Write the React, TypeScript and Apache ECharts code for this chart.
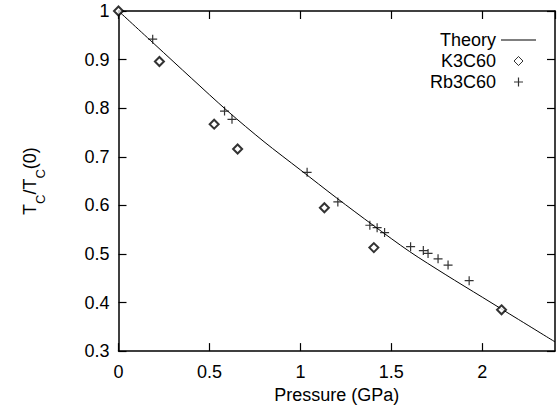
import React, { useEffect, useRef } from "react";
import * as echarts from "echarts";

const theoryP = [0, 0.2, 0.4, 0.6, 0.8, 1.0, 1.2, 1.4, 1.6, 1.8, 2.0, 2.2, 2.4];
const theoryT = [1.0, 0.931, 0.862, 0.794, 0.731, 0.673, 0.615, 0.559, 0.505, 0.457, 0.411, 0.365, 0.319];

const k3P = [0, 0.225, 0.526, 0.655, 1.132, 1.404, 2.106];
const k3T = [1.0, 0.896, 0.767, 0.716, 0.595, 0.513, 0.385];

const rbP = [0.188, 0.583, 0.624, 1.037, 1.206, 1.382, 1.422, 1.463, 1.606, 1.676, 1.702, 1.757, 1.812, 1.928];
const rbT = [0.942, 0.794, 0.777, 0.668, 0.607, 0.559, 0.554, 0.544, 0.515, 0.507, 0.501, 0.49, 0.477, 0.445];

const xTicks = [0, 0.5, 1, 1.5, 2];
const yTicks = [0.3, 0.4, 0.5, 0.6, 0.7, 0.8, 0.9, 1];

const FONT = "Liberation Sans, Arial, Helvetica, sans-serif";
const INK = "#000";
const DIAMOND = "path://M5,0L10,5L5,10L0,5Z";
const PLUS = "path://M0,5L10,5M5,0L5,10";
const DASH = "path://M0,0L35,0L35,1.1L0,1.1Z";

export default function App() {
  const ref = useRef<HTMLDivElement>(null);
  useEffect(() => {
    if (!ref.current) return;
    const chart = echarts.init(ref.current, null, { renderer: "svg" });
    const zip = (a: number[], b: number[]) => a.map((v, i) => [v, b[i]]);
    const baseX = {
      type: "value",
      min: 0,
      max: 2.4,
      interval: 0.5,
      splitLine: { show: false },
      axisLine: { show: true, onZero: false, lineStyle: { color: INK, width: 1.5 } },
      axisTick: { show: true, inside: true, length: 8, lineStyle: { color: INK, width: 1.2 } },
    };
    const baseY = {
      type: "value",
      min: 0.3,
      max: 1,
      interval: 0.1,
      splitLine: { show: false },
      axisLine: { show: true, onZero: false, lineStyle: { color: INK, width: 1.5 } },
      axisTick: { show: true, inside: true, length: 8, lineStyle: { color: INK, width: 1.2 } },
    };
    chart.setOption({
      animation: false,
      textStyle: { fontFamily: FONT, color: INK },
      grid: { left: 118.5, right: 3, top: 11, bottom: 51, containLabel: false },
      legend: {
        right: 17,
        top: 26,
        orient: "vertical",
        align: "right",
        itemWidth: 35,
        itemHeight: 9,
        itemGap: 3,
        textStyle: { fontFamily: FONT, fontSize: 18, color: INK },
        data: [
          { name: "Theory", icon: DASH, itemStyle: { color: INK, borderWidth: 0 } },
          { name: "K3C60", icon: DIAMOND, itemStyle: { color: "#fff", borderColor: INK, borderWidth: 1 } },
          { name: "Rb3C60", icon: PLUS, itemStyle: { color: "transparent", borderColor: INK, borderWidth: 1.2 } },
        ],
      },
      xAxis: [
        {
          ...baseX,
          position: "bottom",
          name: "Pressure (GPa)",
          nameLocation: "middle",
          nameGap: 31,
          nameTextStyle: { fontFamily: FONT, fontSize: 18, color: INK },
          axisLabel: {
            show: true,
            margin: 12,
            fontFamily: FONT,
            fontSize: 18,
            color: INK,
            showMaxLabel: false,
            formatter: (v: number) => (xTicks.includes(v) ? String(v) : ""),
          },
        },
        { ...baseX, position: "top", axisLabel: { show: false } },
      ],
      yAxis: [
        {
          ...baseY,
          position: "left",
          name: "{t|T}{s|C}{t|/T}{s|C}{t|(0)}",
          nameLocation: "middle",
          nameRotate: 90,
          nameGap: 80,
          nameTextStyle: {
            rich: {
              t: { fontFamily: FONT, fontSize: 18, color: INK, lineHeight: 22, verticalAlign: "bottom" },
              s: { fontFamily: FONT, fontSize: 13, color: INK, lineHeight: 22, verticalAlign: "bottom", padding: [0, 0, -8, 0] },
            },
          },
          axisLabel: {
            show: true,
            margin: 9,
            fontFamily: FONT,
            fontSize: 18,
            color: INK,
            formatter: (v: number) => {
              const r = Math.round(v * 10) / 10;
              return yTicks.includes(r) ? String(r) : "";
            },
          },
        },
        { ...baseY, position: "right", axisLabel: { show: false } },
      ],
      series: [
        {
          name: "Theory",
          type: "line",
          data: zip(theoryP, theoryT),
          smooth: 0.3,
          symbol: "none",
          showSymbol: false,
          lineStyle: { color: INK, width: 1 },
          itemStyle: { color: INK },
          z: 2,
        },
        {
          name: "K3C60",
          type: "scatter",
          data: zip(k3P, k3T),
          symbol: "emptyDiamond",
          symbolSize: 9,
          itemStyle: { color: INK, borderColor: INK, borderWidth: 1 },
          z: 3,
        },
        {
          name: "Rb3C60",
          type: "scatter",
          data: zip(rbP, rbT),
          symbol: PLUS,
          symbolSize: 9,
          itemStyle: { color: "transparent", borderColor: INK, borderWidth: 1.2 },
          z: 3,
        },
      ],
    });
    return () => chart.dispose();
  }, []);
  return (
    <div
      ref={ref}
      style={{ position: "fixed", left: 0, top: 0, width: 558, height: 409, background: "#fff" }}
    />
  );
}
